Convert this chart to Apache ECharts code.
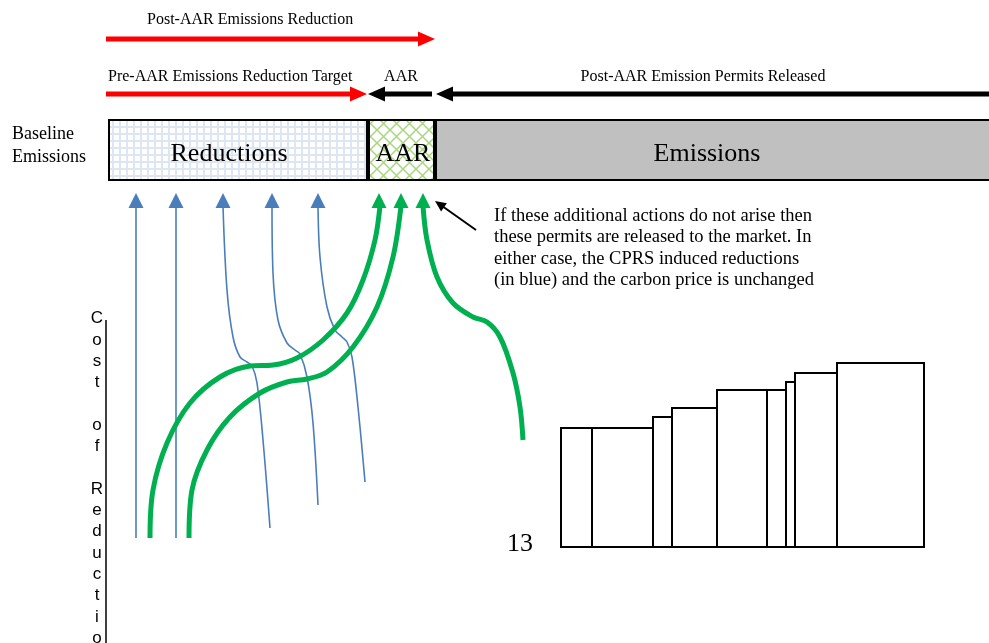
<!DOCTYPE html>
<html>
<head>
<meta charset="utf-8">
<script src="https://cdn.jsdelivr.net/npm/echarts@6/dist/echarts.min.js"></script>
<style>
  html, body { margin: 0; background: #fff; }
  #main { width: 989px; height: 643px; }
</style>
</head>
<body>
<div id="main"></div>
<script>
// baseline emissions bar, split into its three parts
var boxParts = ["Reductions", "AAR", "Emissions"];
var boxValues = [260, 67, 564];

// step cost curve: width and height of each abatement block
var blockWidths = [31, 61, 19, 45, 50, 19, 9, 42, 87];
var blockHeights = [119, 119, 130, 139, 157, 157, 165, 174, 184];

// straight arrows [x tail, y tail, x head, y head]
var redArrows = [[106, 39, 435, 39], [106, 94, 367, 94]];
var blackArrows = [[432, 94, 368, 94], [995, 94, 436, 94]];
var pointerArrow = [[476, 230, 435, 201]];

// CPRS induced reductions (blue) and AAR actions (green)
var blueCurves = [
  [[136, 206], [136, 538]],
  [[176, 206], [176, 538]],
  [[223, 206], [227, 290], [233, 337], [240, 357], [247, 362], [252, 366], [257, 383], [263, 440], [270, 528]],
  [[272, 206], [273, 273], [278, 320], [287, 343], [295, 350], [300, 354], [307, 377], [313, 423], [318, 505]],
  [[318, 206], [320, 257], [327, 307], [335, 330], [342, 337], [347, 342], [352, 357], [358, 407], [365, 482]]
];
var greenCurves = [
  [[150, 538], [153, 490], [167, 443], [190, 403], [220, 377], [250, 366], [273, 365], [297, 358], [323, 340], [347, 313], [363, 280], [375, 240], [380, 206]],
  [[189, 538], [192, 490], [207, 450], [230, 417], [260, 393], [287, 382], [307, 379], [327, 372], [353, 347], [377, 307], [393, 257], [401, 206]],
  [[423, 206], [427, 240], [437, 277], [453, 303], [473, 317], [487, 322], [500, 337], [513, 373], [520, 407], [523, 440]]
];
var blueTips = [136, 176, 223, 272, 318];
var greenTips = [379, 401, 423];
var tipY = 200.5;

var axisLinePts = [[106, 320], [106, 650]];

var annotation = [
  "If these additional actions do not arise then",
  "these permits are released to the market. In",
  "either case, the CPRS induced reductions",
  "(in blue) and the carbon price is unchanged"
];

var chart = echarts.init(document.getElementById("main"), null, { renderer: "canvas" });

function makePattern(size, draw) {
  var c = document.createElement("canvas");
  c.width = size;
  c.height = size;
  var ctx = c.getContext("2d");
  ctx.fillStyle = "#fff";
  ctx.fillRect(0, 0, size, size);
  draw(ctx, size);
  return { image: c, repeat: "repeat" };
}

var gridPattern = makePattern(7, function (ctx, s) {
  ctx.fillStyle = "#dee6f2";
  ctx.fillRect(0, 0, s, 2);
  ctx.fillRect(0, 0, 2, s);
});
var hatchPattern = makePattern(13, function (ctx, s) {
  ctx.strokeStyle = "#a9d77f";
  ctx.lineWidth = 1.5;
  ctx.beginPath();
  ctx.moveTo(-1, -1); ctx.lineTo(s + 1, s + 1);
  ctx.moveTo(s + 1, -1); ctx.lineTo(-1, s + 1);
  ctx.stroke();
});
var boxColors = [gridPattern, hatchPattern, "#c0c0c0"];

function arrowRender(lineW, headL, headW, color) {
  return function (params, api) {
    var a = api.coord([api.value(0), api.value(1)]);
    var b = api.coord([api.value(2), api.value(3)]);
    var dx = b[0] - a[0], dy = b[1] - a[1];
    var len = Math.sqrt(dx * dx + dy * dy);
    var ux = dx / len, uy = dy / len;
    var bx = b[0] - ux * headL, by = b[1] - uy * headL;
    return {
      type: "group",
      children: [
        { type: "line", shape: { x1: a[0], y1: a[1], x2: bx + ux, y2: by + uy }, style: { stroke: color, lineWidth: lineW } },
        { type: "polygon", shape: { points: [[b[0], b[1]], [bx - uy * headW, by + ux * headW], [bx + uy * headW, by - ux * headW]] }, style: { fill: color } }
      ]
    };
  };
}

var series = [];

// baseline box (the emissions part runs off the right edge)
boxParts.forEach(function (name, i) {
  series.push({
    name: name,
    type: "bar",
    stack: "box",
    xAxisIndex: 1,
    yAxisIndex: 1,
    barWidth: "100%",
    clip: false,
    data: [boxValues[i]],
    itemStyle: { color: boxColors[i], borderColor: "#000", borderWidth: 2 },
    silent: true
  });
});

// step cost blocks
var blocks = [];
var start = 0;
blockWidths.forEach(function (w, i) {
  blocks.push([start, start + w, blockHeights[i]]);
  start += w;
});
series.push({
  type: "custom",
  xAxisIndex: 2,
  yAxisIndex: 2,
  data: blocks,
  encode: { x: [0, 1], y: 2 },
  renderItem: function (params, api) {
    var tl = api.coord([api.value(0), api.value(2)]);
    var br = api.coord([api.value(1), 0]);
    return {
      type: "rect",
      shape: { x: tl[0], y: tl[1], width: br[0] - tl[0], height: br[1] - tl[1] },
      style: { fill: "#fff", stroke: "#000", lineWidth: 2 }
    };
  }
});

// cost of reduction axis line
series.push({
  type: "line",
  data: axisLinePts,
  showSymbol: false,
  lineStyle: { color: "#000", width: 1.5 }
});

blueCurves.forEach(function (pts) {
  series.push({
    type: "line",
    data: pts,
    smooth: 0.35,
    showSymbol: false,
    lineStyle: { color: "#4a7ebb", width: 1.6 }
  });
});
series.push({
  type: "scatter",
  data: blueTips.map(function (x) { return [x, tipY]; }),
  symbol: "triangle",
  symbolSize: [15, 15],
  itemStyle: { color: "#4a7ebb", opacity: 1 }
});

greenCurves.forEach(function (pts) {
  series.push({
    type: "line",
    data: pts,
    smooth: 0.35,
    showSymbol: false,
    z: 3,
    lineStyle: { color: "#00b050", width: 5 }
  });
});
series.push({
  type: "scatter",
  data: greenTips.map(function (x) { return [x, tipY]; }),
  symbol: "triangle",
  symbolSize: [15, 15],
  z: 3,
  itemStyle: { color: "#00b050", opacity: 1 }
});

series.push({ type: "custom", data: redArrows, encode: { x: [0, 2], y: [1, 3] }, renderItem: arrowRender(5, 17, 7.5, "#ff0000") });
series.push({ type: "custom", data: blackArrows, encode: { x: [0, 2], y: [1, 3] }, renderItem: arrowRender(5, 17, 7.5, "#000") });
series.push({ type: "custom", data: pointerArrow, encode: { x: [0, 2], y: [1, 3] }, renderItem: arrowRender(2, 11, 5, "#000") });

var serif = '"Liberation Serif", "Times New Roman", serif';
function txt(text, x, y, size, align, extra) {
  var st = { text: text, x: x, y: y, font: size + "px " + serif, fill: "#000", textAlign: align || "left", textVerticalAlign: "middle" };
  if (extra) for (var k in extra) st[k] = extra[k];
  return { type: "text", style: st, z: 10 };
}

var option = {
  animation: false,
  backgroundColor: "#fff",
  grid: [
    { left: 0, right: 0, top: 0, bottom: 0 },
    { left: 108, right: 0, top: 119, height: 62 },
    { left: 561, right: 65, top: 363, bottom: 96 }
  ],
  xAxis: [
    { type: "value", min: 0, max: 989, show: false, gridIndex: 0 },
    { type: "value", min: 0, max: 881, show: false, gridIndex: 1 },
    { type: "value", min: 0, max: 363, show: false, gridIndex: 2 }
  ],
  yAxis: [
    { type: "value", min: 0, max: 643, inverse: true, show: false, gridIndex: 0 },
    { type: "category", data: ["Baseline"], show: false, gridIndex: 1 },
    { type: "value", min: 0, max: 184, show: false, gridIndex: 2 }
  ],
  graphic: [
    txt("Post-AAR Emissions Reduction", 147, 20, 16),
    txt("Pre-AAR Emissions Reduction Target", 108, 77, 16),
    txt("AAR", 401, 77, 16, "center"),
    txt("Post-AAR Emission Permits Released", 703, 77, 16, "center"),
    txt("Baseline\nEmissions", 12, 146, 18, "left", { lineHeight: 23 }),
    txt("Reductions", 229, 154, 26, "center"),
    txt("AAR", 403, 154, 26, "center"),
    txt("Emissions", 707, 154, 26, "center"),
    txt(annotation.join("\n"), 494, 248, 18.5, "left", { lineHeight: 21.3 }),
    txt("13", 520, 544, 26, "center"),
    {
      type: "text",
      z: 10,
      style: {
        text: "C\no\ns\nt\n\no\nf\n\nR\ne\nd\nu\nc\nt\ni\no\nn",
        x: 97, y: 308,
        font: '17px "Liberation Sans", Arial, sans-serif',
        fill: "#000",
        textAlign: "center",
        textVerticalAlign: "top",
        lineHeight: 21.3
      }
    }
  ],
  series: series
};

chart.setOption(option);
</script>
</body>
</html>
